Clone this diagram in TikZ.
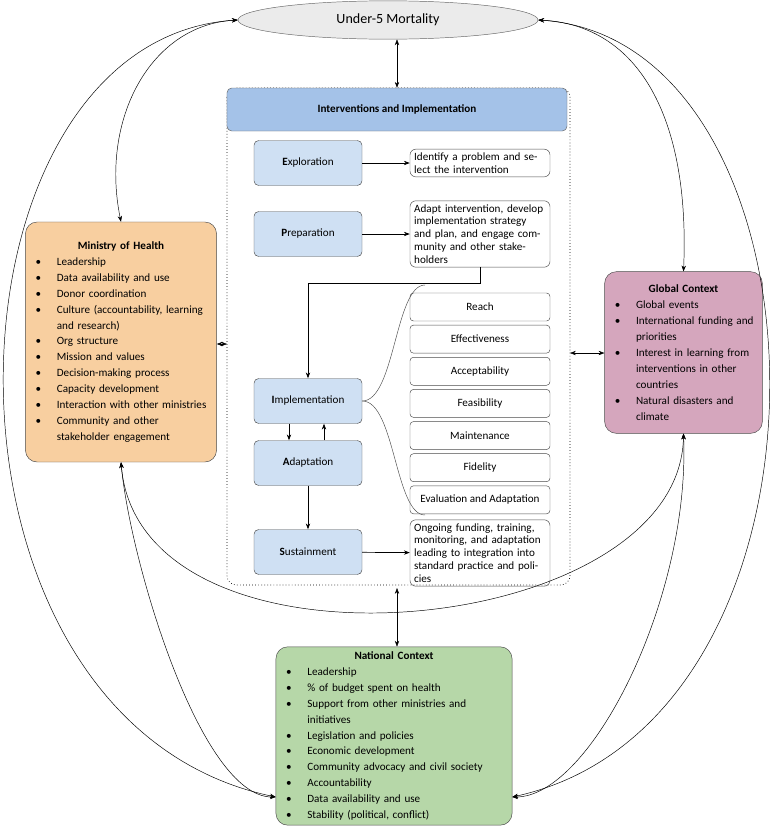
\documentclass[tikz,border=0pt]{standalone}
\usepackage{fontspec}
\setmainfont{Carlito}
\usetikzlibrary{positioning,arrows.meta,shapes.geometric}
\definecolor{hdrblue}{HTML}{A4C2E8}
\definecolor{phblue}{HTML}{CFE0F3}
\definecolor{mohorange}{HTML}{F8CFA0}
\definecolor{globpink}{HTML}{D5A6BD}
\definecolor{natgreen}{HTML}{B6D7A8}
\newcommand\bitem{\par\hangindent=2.4em\hangafter=1\hspace*{0.5em}\makebox[1.9em][l]{\textbullet}}
\newcommand\phase[2]{\textbf{#1}#2}
\newcommand\boxtitle[1]{{\centering\textbf{#1}\par}\raggedright}
\begin{document}
\begin{tikzpicture}
[x=0.03cm, y=-0.03cm, font=\fontsize{9.5}{11}\selectfont,
phase-box/.style={draw=black!70, fill=phblue, rounded corners=4pt, minimum width=3.24cm, minimum height=1.35cm, align=center},
note-box/.style={draw=black!70, rounded corners=5pt, text width=3.95cm, minimum width=4.2cm, align=left, inner sep=3pt},
out-box/.style={draw=black!70, rounded corners=3pt, minimum width=4.2cm, minimum height=0.84cm},
ctx-box/.style={draw=black!70, rounded corners=10pt, align=left, inner sep=4pt, font=\fontsize{9.5}{13.6}\selectfont},
link/.style={{Stealth[length=5pt]}-{Stealth[length=5pt]}, thin},
flow/.style={-{Stealth[length=5pt]}, semithick}
]
\useasboundingbox (0,0) rectangle (777,835);
% outcome
\node (u5) [ellipse, draw=black!60, fill=black!8, minimum width=9cm, minimum height=1.15cm, font=\fontsize{12}{14}\selectfont] at (388,20) {Under-5 Mortality};
% interventions frame
\draw [dotted, semithick, rounded corners=8pt] (227,88) rectangle (570,585);
\node (hdr) [draw=black!60, fill=hdrblue, rounded corners=4pt, minimum width=10.2cm, minimum height=1.29cm, font=\bfseries\fontsize{9.5}{11}\selectfont] at (397,109.5) {Interventions and Implementation};
\node (expl) [phase-box] at (308,163) {\phase{E}{xploration}};
\node (prep) [phase-box] at (308,234) {\phase{P}{reparation}};
\node (impl) [phase-box] at (308,401) {\phase{I}{mplementation}};
\node (adap) [phase-box] at (308,463) {\phase{A}{daptation}};
\node (sust) [phase-box] at (308,552) {\phase{S}{ustainment}};
\node (expl-n) [note-box] at (480,163) {Identify a problem and select the intervention};
\node (prep-n) [note-box] at (480,234) {Adapt intervention, develop implementation strategy and plan, and engage community and other stakeholders};
\node (sust-n) [note-box] at (480,553) {Ongoing funding, training, monitoring, and adaptation leading to integration into standard practice and policies};
\node (reach) [out-box] at (480,307) {Reach};
\node (effe) [out-box, below=0.11cm of reach] {Effectiveness};
\node (acce) [out-box, below=0.11cm of effe] {Acceptability};
\node (feas) [out-box, below=0.11cm of acce] {Feasibility};
\node (main) [out-box, below=0.11cm of feas] {Maintenance};
\node (fide) [out-box, below=0.11cm of main] {Fidelity};
\node (eval) [out-box, below=0.11cm of fide] {Evaluation and Adaptation};
\draw [black!70] (impl.east) .. controls (395,401) and (395,285) .. (425,285);
\draw [black!70] (impl.east) .. controls (395,401) and (395,515) .. (425,515);
\draw [flow] (expl) -- (expl-n);
\draw [flow] (prep) -- (prep-n);
\draw [flow] (sust) -- (sust-n);
\draw [flow] (prep-n.south) |- (308,283) -- (impl.north);
\draw [flow] (impl.south -| 289,0) -- (adap.north -| 289,0);
\draw [flow] (adap.north -| 324,0) -- (impl.south -| 324,0);
\draw [flow] (adap) -- (sust);
% context boxes
\node (moh) [ctx-box, fill=mohorange, text width=5.45cm, minimum height=7.2cm] at (121,342) {\boxtitle{Ministry of Health}
\bitem Leadership
\bitem Data availability and use
\bitem Donor coordination
\bitem Culture (accountability, learning and research)
\bitem Org structure
\bitem Mission and values
\bitem Decision-making process
\bitem Capacity development
\bitem Interaction with other ministries
\bitem Community and other stakeholder engagement\par\vspace*{8pt}};
\node (glob) [ctx-box, fill=globpink, text width=4.45cm, minimum height=4.85cm] at (683.5,352.5) {\boxtitle{Global Context}
\bitem Global events
\bitem International funding and priorities
\bitem Interest in learning from interventions in other countries
\bitem Natural disasters and climate\par\vspace*{22pt}};
\node (nat) [ctx-box, fill=natgreen, text width=6.8cm, minimum height=5.15cm] at (394,736) {\boxtitle{National Context}
\bitem Leadership
\bitem \% of budget spent on health
\bitem Support from other ministries and initiatives
\bitem Legislation and policies
\bitem Economic development
\bitem Community advocacy and civil society
\bitem Accountability
\bitem Data availability and use
\bitem Stability (political, conflict)};
% links
\coordinate (box-w) at (227,344);
\coordinate (box-e) at (570,353);
\coordinate (box-s) at (397,588);
\draw [link] (u5.south -| hdr.north) -- (hdr.north);
\draw [link] (moh.east |- box-w) -- (box-w);
\draw [link] (box-e) -- (glob.west |- box-e);
\draw [link] (box-s) -- (nat.north -| box-s);
\draw [link] (u5.west) .. controls (150,25) and (100,120) .. (moh.north);
\draw [link] (u5.west) .. controls (-70,40) and (-90,720) .. (nat.west |- 0,797);
\draw [link] (u5.east) .. controls (640,25) and (690,120) .. (glob.north);
\draw [link] (u5.east) .. controls (840,40) and (860,720) .. (nat.east |- 0,797);
\draw [link] (moh.south) .. controls (130,560) and (200,797) .. (nat.west |- 0,797);
\draw [link] (moh.south) .. controls (140,690) and (680,640) .. (glob.south);
\draw [link] (glob.south) .. controls (690,600) and (590,797) .. (nat.east |- 0,797);
\end{tikzpicture}
\end{document}
